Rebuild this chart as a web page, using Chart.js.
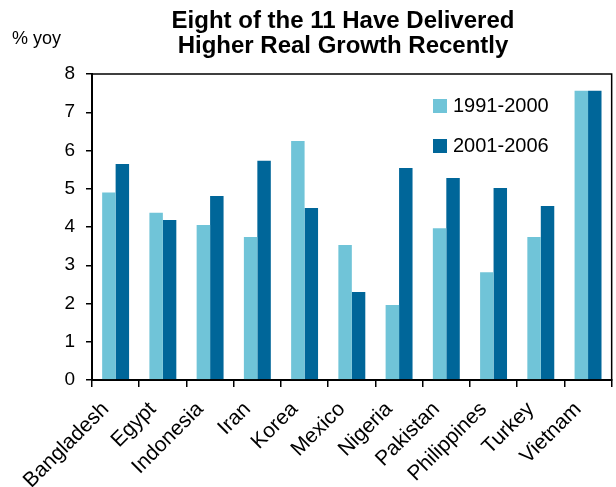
<!DOCTYPE html>
<html>
<head>
<meta charset="utf-8">
<script src="https://cdn.jsdelivr.net/npm/chart.js@4/dist/chart.umd.min.js"></script>
<style>
  html, body { margin: 0; padding: 0; background: #fff; }
  #wrap { width: 616px; height: 487px; }
</style>
</head>
<body>
<div id="wrap"><canvas id="chart" width="616" height="487"></canvas></div>
<script>
// datos
const countries = ['Bangladesh', 'Egypt', 'Indonesia', 'Iran', 'Korea', 'Mexico',
    'Nigeria', 'Pakistan', 'Philippines', 'Turkey', 'Vietnam'];
const growth1991_2000 = [4.9, 4.37, 4.05, 3.74, 6.25, 3.53, 1.96, 3.97, 2.82, 3.74, 7.56];
const growth2001_2006 = [5.65, 4.18, 4.81, 5.73, 4.5, 2.3, 5.54, 5.28, 5.02, 4.55, 7.56];
const seriesNames = ['1991-2000', '2001-2006'];
const yTicks = [0, 1, 2, 3, 4, 5, 6, 7, 8];

const titleLines = ['Eight of the 11 Have Delivered', 'Higher Real Growth Recently'];
const FONT = '"Liberation Sans", Arial, sans-serif';

// título, unidad, marco y leyenda dibujados a mano
const decorPlugin = {
    id: 'decor',
    afterDraw(chart) {
        const ctx = chart.ctx;
        const area = chart.chartArea;
        ctx.save();

        // marco del área de gráfico
        ctx.strokeStyle = '#000';
        ctx.lineWidth = 1.5;
        ctx.strokeRect(area.left, area.top, area.right - area.left, area.bottom - area.top);

        // título
        ctx.fillStyle = '#000';
        ctx.font = 'bold 24px ' + FONT;
        ctx.textAlign = 'center';
        ctx.textBaseline = 'alphabetic';
        ctx.fillText(titleLines[0], 343, 28);
        ctx.fillText(titleLines[1], 343, 53);

        // unidad
        ctx.font = '18px ' + FONT;
        ctx.textAlign = 'left';
        ctx.fillText('% yoy', 12, 44);

        // leyenda
        ctx.font = '20px ' + FONT;
        ctx.textBaseline = 'middle';
        chart.data.datasets.forEach((ds, i) => {
            const y = 99 + i * 40;
            ctx.fillStyle = ds.backgroundColor;
            ctx.fillRect(433, y, 14, 14);
            ctx.fillStyle = '#000';
            ctx.fillText(ds.label, 453, y + 7.5);
        });

        ctx.restore();
    }
};

new Chart(document.getElementById('chart'), {
    type: 'bar',
    data: {
        labels: countries,
        datasets: [{
            label: seriesNames[0],
            data: growth1991_2000,
            backgroundColor: '#70C4D8',
            borderWidth: 0
        }, {
            label: seriesNames[1],
            data: growth2001_2006,
            backgroundColor: '#006699',
            borderWidth: 0
        }]
    },
    options: {
        responsive: false,
        animation: false,
        devicePixelRatio: 1,
        layout: {
            padding: { top: 74, right: 3, left: 0, bottom: 0 }
        },
        datasets: {
            bar: {
                categoryPercentage: 0.57,
                barPercentage: 1
            }
        },
        plugins: {
            legend: { display: false },
            title: { display: false },
            tooltip: { enabled: false }
        },
        scales: {
            x: {
                grid: {
                    offset: true,
                    drawOnChartArea: false,
                    drawTicks: true,
                    tickLength: 7,
                    color: '#000',
                    lineWidth: 1.5
                },
                border: { color: '#000', width: 2 },
                ticks: {
                    color: '#000',
                    font: { family: FONT, size: 21 },
                    autoSkip: false,
                    minRotation: 45,
                    maxRotation: 45,
                    padding: 10,
                    labelOffset: -10
                },
                afterFit(scale) {
                    scale.height = 107;
                }
            },
            y: {
                min: 0,
                max: 8,
                afterBuildTicks(scale) {
                    scale.ticks = yTicks.map(v => ({ value: v }));
                },
                grid: {
                    drawOnChartArea: false,
                    drawTicks: true,
                    tickLength: 6,
                    color: '#000',
                    lineWidth: 1.5
                },
                border: { color: '#000', width: 2 },
                ticks: {
                    color: '#000',
                    font: { family: FONT, size: 19 },
                    padding: 11
                },
                afterFit(scale) {
                    scale.width = 92;
                }
            }
        }
    },
    plugins: [decorPlugin]
});
</script>
</body>
</html>
